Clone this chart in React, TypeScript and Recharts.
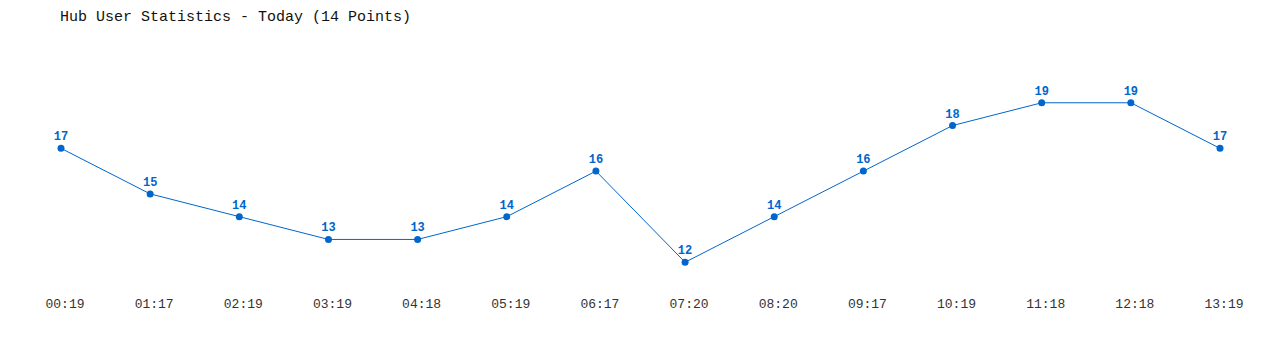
import { LineChart, Line, XAxis, YAxis, LabelList } from 'recharts';

// time of each sample (HH:MM) and the number of hub users at that time
const times = ['00:19', '01:17', '02:19', '03:19', '04:18', '05:19', '06:17', '07:20', '08:20', '09:17', '10:19', '11:18', '12:18', '13:19'];
const users = [17, 15, 14, 13, 13, 14, 16, 12, 14, 16, 18, 19, 19, 17];

const data = times.map((t, i) => ({ time: t, users: users[i] }));

const MONO = '"Liberation Mono", "DejaVu Sans Mono", monospace';
const BLUE = '#0066cc';

export default function App() {
  return (
    <div style={{ position: 'absolute', left: 0, top: 0, width: 1280, height: 350, background: 'white' }}>
      <div
        style={{
          position: 'absolute',
          left: 60,
          top: 9,
          fontFamily: MONO,
          fontSize: 15,
          color: '#111',
          lineHeight: '18px',
        }}
      >
        Hub User Statistics - Today (14 Points)
      </div>
      <LineChart
        width={1280}
        height={350}
        data={data}
        margin={{ top: 80, right: 60, bottom: 35, left: 61 }}
      >
        <XAxis
          dataKey="time"
          axisLine={false}
          tickLine={false}
          interval={0}
          height={30}
          tick={{ fontSize: 13, fontFamily: MONO, fill: '#333', dx: 4, dy: 6 }}
        />
        <YAxis hide domain={[11, 20]} />
        <Line
          type="linear"
          dataKey="users"
          stroke={BLUE}
          strokeWidth={1}
          dot={{ r: 3.5, fill: BLUE, stroke: BLUE, strokeWidth: 0 }}
          isAnimationActive={false}
        >
          <LabelList
            dataKey="users"
            position="top"
            offset={8}
            style={{ fontSize: 12, fontWeight: 'bold', fontFamily: MONO, fill: BLUE }}
          />
        </Line>
      </LineChart>
    </div>
  );
}
